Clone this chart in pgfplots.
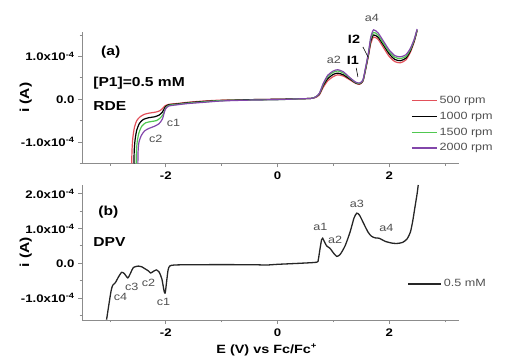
\documentclass[border=0pt]{standalone}
\usepackage{pgfplots}
\pgfplotsset{compat=1.18}
\usepackage{fontspec}
\setmainfont{Liberation Sans}[FakeStretch=1.2]
\definecolor{cred}{RGB}{226,80,90}
\definecolor{cgreen}{RGB}{80,200,80}
\definecolor{cpurple}{RGB}{130,70,170}
\definecolor{axgray}{RGB}{140,140,140}
\definecolor{anngray}{RGB}{80,80,80}
\pgfplotsset{
  common/.style={
    scale only axis, width=377pt,
    xmin=-3.5, xmax=3.25,
    axis x line*=bottom, axis y line*=left,
    axis line style={axgray, line width=0.9pt},
    every tick/.style={axgray, line width=0.8pt},
    tick align=outside, major tick length=4pt, minor tick length=2.5pt,
    xtick={-2,0,2}, minor xtick={-3,-1,1,3},
    /pgf/number format/assume math mode=true,
    tick label style={font=\bfseries\fontsize{11}{12}\selectfont, black},
    xticklabel style={yshift=-1pt},
    clip=false,
    legend cell align=left,
  }
}
\begin{document}
\begin{tikzpicture}
\path[use as bounding box] (0,0) rectangle (505pt,358pt);
% ---------------- top panel (a) RDE ----------------
\begin{axis}[common, height=131.5pt, at={(82pt,194.5pt)}, anchor=south west,
  ymin=-1.5, ymax=1.57,
  ytick={-1,0,1}, minor ytick={-1.5,-0.5,0.5,1.5},
  yticklabels={-1.0x10\textsuperscript{-4},0.0,1.0x10\textsuperscript{-4}},
  ylabel={i (A)},
  ylabel style={at={(axis description cs:-0.149,0.5)}, anchor=center, font=\bfseries\fontsize{13}{14}\selectfont},
  legend style={draw=none, fill=none, at={(axis description cs:0.865,0.545)}, anchor=north west,
    font=\fontsize{10.5}{11}\selectfont, text=anngray, row sep=3pt},
  legend image code/.code={\draw[#1] (0pt,0pt) -- (25pt,0pt);},
]
\addplot[cred, line width=1.2pt, smooth, tension=0.4] coordinates {
(-2.61,-1.5) (-2.605,-1.2) (-2.59,-0.9) (-2.56,-0.65) (-2.52,-0.5) (-2.46,-0.41) (-2.38,-0.35) (-2.28,-0.32) (-2.18,-0.3) (-2.11,-0.27) (-2.06,-0.22) (-2.02,-0.16) (-1.95,-0.12) (-1.8,-0.1) (-1.6,-0.07) (-1.3,-0.04) (-1.0,-0.02) (-0.5,-0.01) (0,0) (0.4,0.01) (0.6,0.02) (0.68,0.04) (0.75,0.1) (0.82,0.28) (0.9,0.43) (1.0,0.53) (1.08,0.57) (1.18,0.54) (1.3,0.45) (1.4,0.37) (1.47,0.35) (1.53,0.42) (1.58,0.7) (1.63,1.02) (1.67,1.3) (1.72,1.45) (1.8,1.4) (1.9,1.2) (2.0,1.0) (2.1,0.88) (2.2,0.85) (2.3,0.92) (2.38,1.1) (2.45,1.35) (2.5,1.6)};
\addlegendentry{500 rpm}
\addplot[black, line width=1.2pt, smooth, tension=0.4] coordinates {
(-2.57,-1.5) (-2.565,-1.2) (-2.55,-0.95) (-2.52,-0.72) (-2.47,-0.56) (-2.4,-0.47) (-2.3,-0.43) (-2.2,-0.41) (-2.12,-0.37) (-2.06,-0.3) (-2.01,-0.18) (-1.95,-0.13) (-1.8,-0.11) (-1.6,-0.08) (-1.3,-0.05) (-1.0,-0.03) (-0.5,-0.01) (0,0) (0.4,0.01) (0.6,0.02) (0.68,0.05) (0.75,0.12) (0.82,0.32) (0.9,0.48) (1.0,0.58) (1.08,0.61) (1.18,0.57) (1.3,0.47) (1.4,0.38) (1.47,0.36) (1.53,0.43) (1.58,0.72) (1.63,1.05) (1.67,1.36) (1.72,1.5) (1.8,1.45) (1.9,1.26) (2.0,1.06) (2.1,0.93) (2.2,0.9) (2.3,0.96) (2.38,1.13) (2.45,1.37) (2.5,1.61)};
\addlegendentry{1000 rpm}
\addplot[cgreen, line width=1.2pt, smooth, tension=0.4] coordinates {
(-2.53,-1.5) (-2.525,-1.2) (-2.51,-0.98) (-2.48,-0.78) (-2.43,-0.63) (-2.36,-0.55) (-2.26,-0.52) (-2.17,-0.5) (-2.11,-0.45) (-2.05,-0.36) (-2.0,-0.2) (-1.94,-0.14) (-1.8,-0.12) (-1.6,-0.09) (-1.3,-0.06) (-1.0,-0.03) (-0.5,-0.02) (0,-0.01) (0.4,0.01) (0.6,0.02) (0.68,0.05) (0.75,0.13) (0.82,0.35) (0.9,0.53) (1.0,0.63) (1.08,0.66) (1.18,0.61) (1.3,0.49) (1.4,0.39) (1.47,0.37) (1.53,0.44) (1.58,0.74) (1.63,1.08) (1.67,1.41) (1.72,1.56) (1.8,1.5) (1.9,1.3) (2.0,1.11) (2.1,0.98) (2.2,0.95) (2.3,1.0) (2.38,1.16) (2.45,1.39) (2.5,1.62)};
\addlegendentry{1500 rpm}
\addplot[cpurple, line width=1.2pt, smooth, tension=0.4] coordinates {
(-2.5,-1.5) (-2.495,-1.2) (-2.48,-1.0) (-2.44,-0.85) (-2.38,-0.74) (-2.3,-0.68) (-2.2,-0.63) (-2.12,-0.57) (-2.06,-0.46) (-2.01,-0.24) (-1.95,-0.16) (-1.8,-0.13) (-1.6,-0.1) (-1.3,-0.07) (-1.0,-0.04) (-0.5,-0.02) (0,-0.01) (0.4,0.01) (0.6,0.02) (0.68,0.05) (0.75,0.14) (0.82,0.37) (0.9,0.56) (1.0,0.66) (1.08,0.69) (1.18,0.64) (1.3,0.5) (1.4,0.4) (1.47,0.38) (1.53,0.45) (1.58,0.76) (1.63,1.1) (1.67,1.45) (1.72,1.62) (1.8,1.55) (1.9,1.35) (2.0,1.15) (2.1,1.02) (2.2,0.99) (2.3,1.04) (2.38,1.19) (2.45,1.41) (2.5,1.64)};
\addlegendentry{2000 rpm}
\node[anchor=west, font=\bfseries\fontsize{13}{14}\selectfont] at (axis cs:-3.22,1.10) {(a)};
\node[anchor=west, font=\bfseries\fontsize{13}{14}\selectfont] at (axis cs:-3.36,0.38) {[P1]=0.5 mM};
\node[anchor=west, font=\bfseries\fontsize{13}{14}\selectfont] at (axis cs:-3.36,-0.17) {RDE};
\begin{scope}[every node/.style={font=\fontsize{10.5}{11}\selectfont, text=anngray}]
\node at (axis cs:-1.86,-0.55) {c1};
\node at (axis cs:-2.18,-0.92) {c2};
\node at (axis cs:1.01,0.92) {a2};
\node at (axis cs:1.69,1.90) {a4};
\end{scope}
\node[font=\bfseries\fontsize{12}{13}\selectfont] at (axis cs:1.35,0.90) {I1};
\node[font=\bfseries\fontsize{12}{13}\selectfont] at (axis cs:1.37,1.41) {I2};
\draw[black, line width=0.6pt] (axis cs:1.41,0.73) -- (axis cs:1.44,0.52);
\draw[black, line width=0.6pt] (axis cs:1.53,1.22) -- (axis cs:1.62,0.99);
\end{axis}
% ---------------- bottom panel (b) DPV ----------------
\begin{axis}[common, height=135pt, at={(82pt,38pt)}, anchor=south west,
  ymin=-1.63, ymax=2.25,
  ytick={-1,0,1,2}, minor ytick={-1.5,-0.5,0.5,1.5},
  yticklabels={-1.0x10\textsuperscript{-4},0.0,1.0x10\textsuperscript{-4},2.0x10\textsuperscript{-4}},
  ylabel={i (A)},
  ylabel style={at={(axis description cs:-0.149,0.5)}, anchor=center, font=\bfseries\fontsize{13}{14}\selectfont},
  xlabel={E (V) vs Fc/Fc\textsuperscript{+}},
  xlabel style={at={(axis description cs:0.49,-0.222)}, anchor=center, font=\bfseries\fontsize{12}{13}\selectfont},
  legend style={draw=none, fill=none, at={(axis description cs:0.855,0.33)}, anchor=north west,
    font=\fontsize{10.5}{11}\selectfont, text=anngray},
  legend image code/.code={\draw[#1] (0pt,0pt) -- (33pt,0pt);},
]
\addplot[black!85, line width=1.3pt, smooth, tension=0.4] coordinates {
(-3.06,-1.62) (-3.02,-1.2) (-2.98,-0.8) (-2.95,-0.63) (-2.90,-0.55) (-2.85,-0.4) (-2.79,-0.26) (-2.74,-0.3) (-2.68,-0.42) (-2.63,-0.28) (-2.58,-0.12) (-2.49,-0.08) (-2.43,-0.1) (-2.38,-0.15) (-2.31,-0.22) (-2.27,-0.28) (-2.21,-0.22) (-2.17,-0.19) (-2.12,-0.25) (-2.07,-0.45) (-2.03,-0.8) (-2.01,-0.85) (-1.99,-0.6) (-1.96,-0.2) (-1.93,-0.08) (-1.85,-0.05) (-1.5,-0.04) (-0.5,-0.04) (-0.2,-0.05) (0.0,-0.03) (0.4,0.0) (0.7,0.03) (0.73,0.1) (0.76,0.4) (0.79,0.68) (0.81,0.72) (0.84,0.62) (0.88,0.5) (0.94,0.43) (1.0,0.3) (1.06,0.2) (1.12,0.25) (1.21,0.5) (1.3,0.9) (1.37,1.3) (1.42,1.44) (1.47,1.38) (1.55,1.12) (1.62,0.9) (1.68,0.78) (1.75,0.73) (1.82,0.72) (1.93,0.63) (2.05,0.58) (2.14,0.57) (2.24,0.6) (2.32,0.7) (2.38,0.9) (2.42,1.2) (2.46,1.6) (2.5,2.0) (2.52,2.25)};
\addlegendentry{0.5 mM}
\node[anchor=west, font=\bfseries\fontsize{13}{14}\selectfont] at (axis cs:-3.27,1.47) {(b)};
\node[anchor=west, font=\bfseries\fontsize{13}{14}\selectfont] at (axis cs:-3.36,0.61) {DPV};
\begin{scope}[every node/.style={font=\fontsize{10.5}{11}\selectfont, text=anngray}]
\node at (axis cs:-2.81,-0.98) {c4};
\node at (axis cs:-2.61,-0.69) {c3};
\node at (axis cs:-2.31,-0.55) {c2};
\node at (axis cs:-2.04,-1.12) {c1};
\node at (axis cs:0.77,1.04) {a1};
\node at (axis cs:1.03,0.66) {a2};
\node at (axis cs:1.42,1.70) {a3};
\node at (axis cs:1.95,1.01) {a4};
\end{scope}
\end{axis}
\end{tikzpicture}
\end{document}
